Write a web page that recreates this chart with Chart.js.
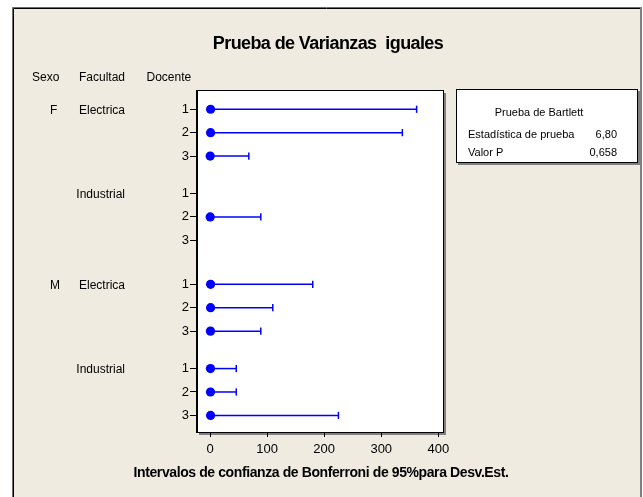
<!DOCTYPE html>
<html>
<head>
<meta charset="utf-8">
<script src="https://cdn.jsdelivr.net/npm/chart.js@4/dist/chart.umd.min.js"></script>
<style>
  html, body { margin: 0; padding: 0; background: #ffffff; }
  canvas { display: block; }
</style>
</head>
<body>
<canvas id="c" width="643" height="497"></canvas>
<script>
// ---- data ----
const sexo     = ['F','F','F','F','F','F','M','M','M','M','M','M'];
const facultad = ['Electrica','Electrica','Electrica','Industrial','Industrial','Industrial',
                  'Electrica','Electrica','Electrica','Industrial','Industrial','Industrial'];
const docente  = ['1','2','3','1','2','3','1','2','3','1','2','3'];
const sigma    = [1.0, 1.0, 0.3, null, 0.3, null, 1.0, 1.0, 0.8, 0.8, 0.8, 1.0];
const lower    = [0.5, 0.5, 0.1, null, 0.1, null, 0.5, 0.5, 0.4, 0.4, 0.4, 0.5];
const upper    = [362, 337, 68, null, 89, null, 180, 110, 89, 46, 46, 225];
const xTicks   = [0, 100, 200, 300, 400];
const headers  = ['Sexo', 'Facultad', 'Docente'];
const titleText = 'Prueba de Varianzas  iguales';
const xTitle    = 'Intervalos de confianza de Bonferroni de 95%para Desv.Est.';
const bartlettTitle = 'Prueba de Bartlett';
const bartlettLabels = ['Estadística de prueba', 'Valor P'];
const bartlettValues = ['6,80', '0,658'];

// ---- layout: row positions on the y scale (gaps between groups) ----
const FAC_GAP = 0.6, SEX_GAP = 0.88;
const rowPos = [];
let p = 0;
for (let i = 0; i < docente.length; i++) {
  if (i > 0) {
    p += 1;
    if (sexo[i] !== sexo[i-1]) p += SEX_GAP;
    else if (facultad[i] !== facultad[i-1]) p += FAC_GAP;
  }
  rowPos.push(p);
}

const BLUE = '#0000FF';
const BEIGE = '#EFEBE1';
const FONT = "'Liberation Sans', Arial, sans-serif";

const datasets = [];
datasets.push({
  type: 'scatter',
  data: rowPos.map((y, i) => sigma[i] == null ? null : {x: sigma[i], y}).filter(d => d),
  pointRadius: 4.6,
  pointHoverRadius: 4.6,
  backgroundColor: BLUE,
  borderWidth: 0,
  order: -1
});
rowPos.forEach((y, i) => {
  if (upper[i] == null) return;
  datasets.push({
    type: 'scatter',
    showLine: true,
    data: [{x: lower[i], y}, {x: upper[i], y}],
    borderColor: BLUE,
    borderWidth: 1.5,
    pointStyle: 'line',
    pointRotation: 90,
    pointRadius: 3.6,
    pointHoverRadius: 3.6,
    pointBorderColor: BLUE,
    pointBorderWidth: 1.5,
    order: 1
  });
});

const decor = {
  id: 'decor',
  beforeDraw(chart) {
    const ctx = chart.ctx;
    const {left, right, top, bottom} = chart.chartArea;
    ctx.save();
    ctx.fillStyle = '#ffffff';
    ctx.fillRect(0, 0, chart.width, chart.height);
    // outer frame
    ctx.fillStyle = BEIGE;
    ctx.fillRect(13, 8, 627, chart.height - 8);
    ctx.strokeStyle = '#6b6b6b';
    ctx.lineWidth = 1;
    ctx.beginPath();
    ctx.moveTo(12.5, chart.height); ctx.lineTo(12.5, 7.5); ctx.lineTo(640.5, 7.5);
    ctx.stroke();
    ctx.strokeStyle = '#000000';
    ctx.beginPath();
    ctx.moveTo(13.5, chart.height); ctx.lineTo(13.5, 8.5); ctx.lineTo(640, 8.5);
    ctx.stroke();
    ctx.strokeStyle = '#808080';
    ctx.lineWidth = 2;
    ctx.beginPath();
    ctx.moveTo(641, 7); ctx.lineTo(641, chart.height);
    ctx.stroke();
    // plot area
    ctx.fillStyle = '#808080';
    ctx.fillRect(left + 2, top + 2, right - left + 1, bottom - top + 1);
    ctx.fillStyle = '#ffffff';
    ctx.fillRect(left, top, right - left, bottom - top);
    ctx.restore();
  },
  afterDraw(chart) {
    const ctx = chart.ctx;
    const {left, right, top, bottom} = chart.chartArea;
    const ys = chart.scales.y;
    ctx.save();
    ctx.strokeStyle = '#000000';
    ctx.lineWidth = 1;
    ctx.strokeRect(left - 0.5, top - 0.5, right - left + 1, bottom - top + 1);

    // title
    ctx.fillStyle = '#000000';
    ctx.font = 'bold 18px ' + FONT;
    ctx.letterSpacing = '-0.6px';
    ctx.textAlign = 'center';
    ctx.textBaseline = 'alphabetic';
    ctx.fillText(titleText, 328, 49);

    // headers
    ctx.letterSpacing = '0px';
    ctx.font = '12px ' + FONT;
    ctx.textAlign = 'left';
    ctx.fillText(headers[0], 32, 80.5);
    ctx.textAlign = 'right';
    ctx.fillText(headers[1], 125, 80.5);
    ctx.textAlign = 'left';
    ctx.fillText(headers[2], 146.5, 80.5);

    // group labels
    ctx.textBaseline = 'middle';
    for (let i = 0; i < rowPos.length; i++) {
      const y = ys.getPixelForValue(rowPos[i]) + 1.5;
      if (i === 0 || sexo[i] !== sexo[i-1]) {
        ctx.textAlign = 'left';
        ctx.fillText(sexo[i], 50, y);
      }
      if (i === 0 || facultad[i] !== facultad[i-1] || sexo[i] !== sexo[i-1]) {
        ctx.textAlign = 'right';
        ctx.fillText(facultad[i], 125, y);
      }
    }

    // x axis title
    ctx.textBaseline = 'alphabetic';
    ctx.textAlign = 'center';
    ctx.font = 'bold 14px ' + FONT;
    ctx.letterSpacing = '-0.4px';
    ctx.fillText(xTitle, 321, 477);
    ctx.letterSpacing = '0px';

    // Bartlett box
    const bx = 456, by = 89, bw = 181, bh = 73;
    ctx.fillStyle = '#808080';
    ctx.fillRect(bx + 2, by + 2, bw + 1, bh + 1);
    ctx.fillStyle = '#ffffff';
    ctx.fillRect(bx, by, bw, bh);
    ctx.strokeStyle = '#000000';
    ctx.strokeRect(bx + 0.5, by + 0.5, bw, bh);
    ctx.fillStyle = '#000000';
    ctx.font = '11px ' + FONT;
    ctx.textAlign = 'center';
    ctx.fillText(bartlettTitle, 539, 116);
    ctx.textAlign = 'left';
    ctx.fillText(bartlettLabels[0], 468, 138);
    ctx.fillText(bartlettLabels[1], 468, 155.5);
    ctx.textAlign = 'right';
    ctx.fillText(bartlettValues[0], 617, 138);
    ctx.fillText(bartlettValues[1], 617, 155.5);
    ctx.restore();
  }
};

new Chart(document.getElementById('c'), {
  type: 'scatter',
  data: { datasets },
  options: {
    responsive: false,
    devicePixelRatio: 1,
    animation: false,
    events: [],
    layout: { padding: { left: 0, top: 91, right: 200, bottom: 0 } },
    plugins: { legend: { display: false }, tooltip: { enabled: false }, title: { display: false } },
    scales: {
      x: {
        type: 'linear',
        min: -22.8,
        max: 408.2,
        afterBuildTicks: s => { s.ticks = xTicks.map(v => ({value: v})); },
        afterFit: s => { s.height = 65; },
        grid: { drawOnChartArea: false, drawTicks: true, tickLength: 5, color: '#000000', tickColor: '#000000' },
        border: { display: true, color: '#000000' },
        ticks: { color: '#000000', font: { family: FONT, size: 13 }, padding: 5, autoSkip: false, maxRotation: 0 }
      },
      y: {
        type: 'linear',
        reverse: true,
        min: -0.78,
        max: 13.79,
        afterBuildTicks: s => { s.ticks = rowPos.map(v => ({value: v})); },
        afterFit: s => { s.width = 197; },
        grid: { drawOnChartArea: false, drawTicks: true, tickLength: 7, color: '#000000', tickColor: '#000000' },
        border: { display: true, color: '#000000' },
        ticks: {
          color: '#000000', font: { family: FONT, size: 13 }, padding: 1, autoSkip: false,
          callback: (v, idx) => docente[idx]
        }
      }
    }
  },
  plugins: [decor]
});
</script>
</body>
</html>
